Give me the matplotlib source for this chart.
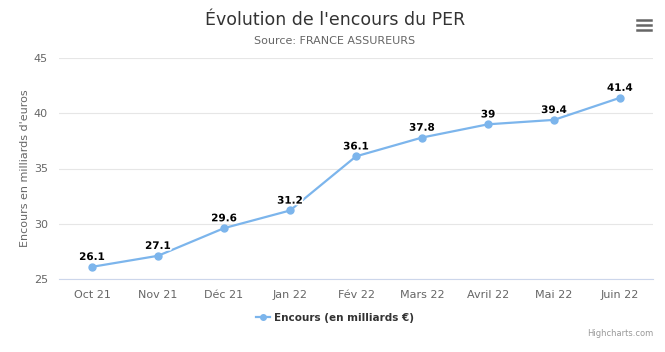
import matplotlib.pyplot as plt
import matplotlib.patheffects as pe

# data
months = ['Oct 21', 'Nov 21', 'Déc 21', 'Jan 22', 'Fév 22', 'Mars 22', 'Avril 22', 'Mai 22', 'Juin 22']
encours = [26.1, 27.1, 29.6, 31.2, 36.1, 37.8, 39.0, 39.4, 41.4]
labels = ['26.1', '27.1', '29.6', '31.2', '36.1', '37.8', '39', '39.4', '41.4']
yticks = [25, 30, 35, 40, 45]

line_col = '#7cb5ec'
txt_col = '#666666'

fig = plt.figure(figsize=(6.65, 3.52), dpi=100)
ax = fig.add_axes([59/665, 1 - 279/352, (653 - 59)/665, (279 - 58)/352])

x = list(range(len(months)))
ax.plot(x, encours, color=line_col, lw=1.6, marker='o', ms=5, zorder=3,
        label='Encours (en milliards €)')
for xi, yi, s in zip(x, encours, labels):
    ax.annotate(s, (xi, yi), xytext=(0, 3.5), textcoords='offset points',
                ha='center', va='bottom', fontsize=7.5, fontweight='bold', color='black',
                path_effects=[pe.withStroke(linewidth=2.5, foreground='white')], zorder=4)

ax.set_xlim(-0.5, len(months) - 0.5)
ax.set_ylim(25, 45)
ax.set_yticks(yticks)
ax.set_xticks(x)
ax.set_xticklabels(months)
ax.grid(axis='y', color='#e6e6e6', lw=0.8)
ax.set_axisbelow(True)
for side in ['top', 'right', 'left']:
    ax.spines[side].set_visible(False)
ax.spines['bottom'].set_color('#ccd6eb')
ax.tick_params(axis='both', length=0, labelsize=8, colors=txt_col)
ax.tick_params(axis='x', pad=8)
ax.tick_params(axis='y', pad=8)
ax.set_ylabel("Encours en milliards d'euros", fontsize=8, color=txt_col, labelpad=3)

fig.text(335/665, 1 - 20/352, "Évolution de l'encours du PER", ha='center', va='center',
         fontsize=12.5, color='#333333')
fig.text(335/665, 1 - 41/352, 'Source: FRANCE ASSUREURS', ha='center', va='center',
         fontsize=8, color=txt_col)

leg = fig.legend(loc='center', bbox_to_anchor=(335/665, 1 - 318/352), frameon=False,
                 prop={'size': 7.5, 'weight': 'bold'}, handlelength=1.3, handletextpad=0.4,
                 markerscale=0.8)
for t in leg.get_texts():
    t.set_color('#333333')

fig.text(653/665, 1 - 334/352, 'Highcharts.com', ha='right', va='center',
         fontsize=6, color='#999999')

# menu icon
for dy in [20, 25, 30]:
    fig.add_artist(plt.Line2D([637/665, 651/665], [1 - dy/352] * 2, color='#666666', lw=1.8))

fig.savefig('out.png', dpi=100)
